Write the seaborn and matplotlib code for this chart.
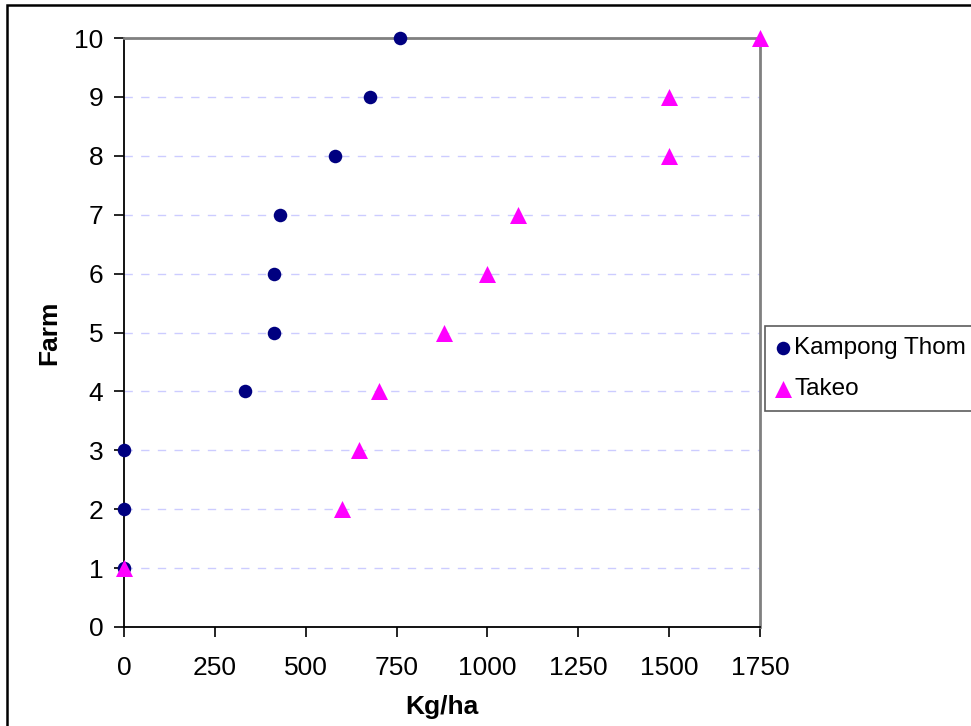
import matplotlib
matplotlib.use("Agg")
import matplotlib.pyplot as plt
from matplotlib.patches import Rectangle
import seaborn as sns
import pandas as pd

farms = [1, 2, 3, 4, 5, 6, 7, 8, 9, 10]
kampong_thom = [0, 0, 0, 332, 412, 412, 428, 581, 677, 760]
takeo = [0, 600, 647, 702, 881, 1000, 1083, 1500, 1500, 1750]
series_names = ["Kampong Thom", "Takeo"]
x_ticks = [0, 250, 500, 750, 1000, 1250, 1500, 1750]
y_ticks = list(range(0, 11))

df = pd.DataFrame({
    "Kg/ha": kampong_thom + takeo,
    "Farm": farms + farms,
    "Site": [series_names[0]] * len(farms) + [series_names[1]] * len(farms),
})

sns.set_style("white")
plt.rcParams["font.family"] = ["Liberation Sans", "DejaVu Sans"]
plt.rcParams["text.color"] = "black"
plt.rcParams["axes.labelcolor"] = "black"
plt.rcParams["xtick.color"] = "black"
plt.rcParams["ytick.color"] = "black"

fig = plt.figure(figsize=(9.71, 7.26), dpi=100)
ax = fig.add_axes([124 / 971, 1 - 627 / 726, (760 - 124) / 971, (627 - 38) / 726])

styles = {
    "Kampong Thom": dict(color="#000080", marker="o", s=95),
    "Takeo": dict(color="#FF00FF", marker="^", s=150),
}
for name in series_names:
    sns.scatterplot(
        data=df[df["Site"] == name], x="Kg/ha", y="Farm",
        label=name, linewidth=0, ax=ax, clip_on=False, zorder=3,
        **styles[name],
    )

ax.set_xlim(0, 1750)
ax.set_ylim(0, 10)
ax.set_xticks(x_ticks)
ax.set_yticks(y_ticks)
ax.tick_params(axis="both", labelsize=19, length=7, width=1.2, color="black",
               labelcolor="black", direction="out", pad=8,
               bottom=True, left=True)
ax.tick_params(axis="x", pad=14)
ax.yaxis.grid(True, color="#ccccff", linestyle=(0, (6, 6)), linewidth=1)
ax.set_axisbelow(True)

for side in ("left", "bottom"):
    ax.spines[side].set_color("black")
    ax.spines[side].set_linewidth(1.3)
for side in ("top", "right"):
    ax.spines[side].set_color("#808080")
    ax.spines[side].set_linewidth(2)
    ax.spines[side].set_visible(True)

ax.set_xlabel("Kg/ha", fontsize=19, fontweight="bold", labelpad=11, color="black")
ax.set_ylabel("Farm", fontsize=19, fontweight="bold", labelpad=9, color="black")

handles, labels = ax.get_legend_handles_labels()
leg = ax.legend(
    handles, labels, loc="upper left",
    bbox_to_anchor=(765 / 971, 1 - 326 / 726), bbox_transform=fig.transFigure,
    fontsize=17.5, frameon=True, fancybox=False, borderpad=0.45,
    handletextpad=0.15, handlelength=0.6, labelspacing=0.8, borderaxespad=0,
)
leg.get_frame().set_edgecolor("#333333")
leg.get_frame().set_linewidth(1.2)
for t in leg.get_texts():
    t.set_color("black")

# outer chart frame
fig.patches.append(Rectangle((7 / 971, -0.1), 1.2, 1 - 5 / 726 + 0.1,
                             transform=fig.transFigure, fill=False,
                             edgecolor="black", linewidth=1.8))

fig.savefig("out.png", dpi=100)
